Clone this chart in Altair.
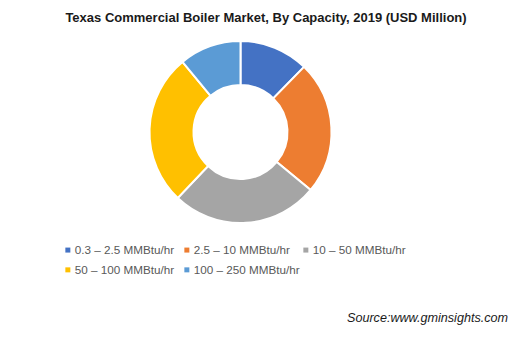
import altair as alt
import pandas as pd

chart_title = "Texas Commercial Boiler Market, By Capacity, 2019 (USD Million)"
source_note = "Source:www.gminsights.com"
categories = ["0.3 – 2.5 MMBtu/hr", "2.5 – 10 MMBtu/hr", "10 – 50 MMBtu/hr",
              "50 – 100 MMBtu/hr", "100 – 250 MMBtu/hr"]
values = [12.3, 23.7, 26.1, 26.9, 11.0]
colors = ["#4472C4", "#ED7D31", "#A5A5A5", "#FFC000", "#5B9BD5"]

df = pd.DataFrame({"capacity": categories, "value": values, "idx": list(range(len(categories)))})

donut = alt.Chart(df).mark_arc(outerRadius=91, innerRadius=47, stroke="white", strokeWidth=2).encode(
    theta=alt.Theta("value:Q", stack=True),
    order=alt.Order("idx:Q"),
    color=alt.Color(
        "capacity:N",
        scale=alt.Scale(domain=categories, range=colors),
        sort=categories,
        legend=alt.Legend(
            title=None, orient="none", legendX=62, legendY=244, columns=3,
            direction="horizontal", symbolType="square", symbolSize=25,
            symbolStrokeWidth=0, labelFontSize=11.7, labelFont="Liberation Sans",
            labelColor="#595959", columnPadding=0, rowPadding=7, gridAlign="all",
            padding=0, labelOffset=1,
        ),
    ),
    x=alt.value(240.5),
    y=alt.value(132),
)

title_text = alt.Chart(pd.DataFrame({"t": [chart_title]})).mark_text(
    font="Liberation Sans", fontSize=13, fontWeight="bold", color="#1a1a1a",
    align="center", baseline="middle",
).encode(text="t:N", x=alt.value(266), y=alt.value(18))

source_text = alt.Chart(pd.DataFrame({"t": [source_note]})).mark_text(
    font="Liberation Sans", fontSize=12.6, fontStyle="italic", color="#1a1a1a",
    align="right", baseline="middle",
).encode(text="t:N", x=alt.value(508), y=alt.value(318))

chart = alt.layer(donut, title_text, source_text).properties(
    width=532, height=340, padding=0, autosize="none"
).configure_view(stroke=None)

chart.save("out.html", embed_options={"renderer": "svg", "actions": False})
